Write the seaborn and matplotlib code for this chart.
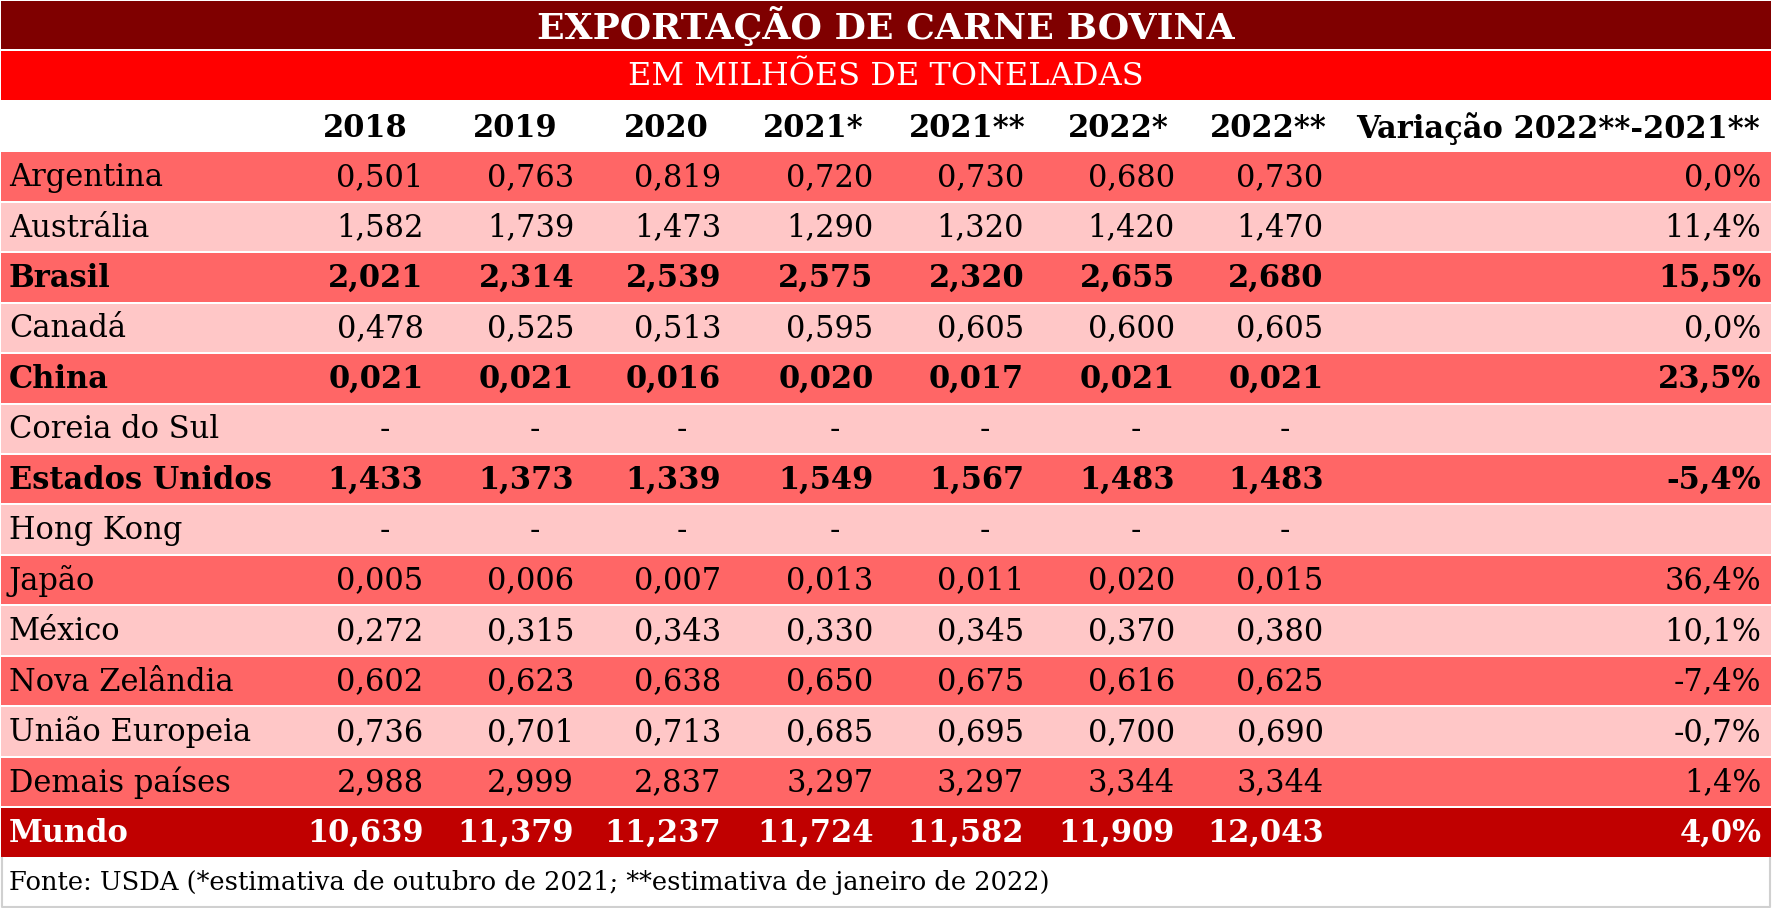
import numpy as np
import pandas as pd
import seaborn as sns
import matplotlib.pyplot as plt
from matplotlib.colors import ListedColormap

# Dados (milhões de toneladas)
paises = ['Argentina', 'Austrália', 'Brasil', 'Canadá', 'China', 'Coreia do Sul',
          'Estados Unidos', 'Hong Kong', 'Japão', 'México', 'Nova Zelândia',
          'União Europeia', 'Demais países', 'Mundo']
colunas = ['2018', '2019', '2020', '2021*', '2021**', '2022*', '2022**']
v2018 = [0.501, 1.582, 2.021, 0.478, 0.021, None, 1.433, None, 0.005, 0.272, 0.602, 0.736, 2.988, 10.639]
v2019 = [0.763, 1.739, 2.314, 0.525, 0.021, None, 1.373, None, 0.006, 0.315, 0.623, 0.701, 2.999, 11.379]
v2020 = [0.819, 1.473, 2.539, 0.513, 0.016, None, 1.339, None, 0.007, 0.343, 0.638, 0.713, 2.837, 11.237]
v2021a = [0.720, 1.290, 2.575, 0.595, 0.020, None, 1.549, None, 0.013, 0.330, 0.650, 0.685, 3.297, 11.724]
v2021b = [0.730, 1.320, 2.320, 0.605, 0.017, None, 1.567, None, 0.011, 0.345, 0.675, 0.695, 3.297, 11.582]
v2022a = [0.680, 1.420, 2.655, 0.600, 0.021, None, 1.483, None, 0.020, 0.370, 0.616, 0.700, 3.344, 11.909]
v2022b = [0.730, 1.470, 2.680, 0.605, 0.021, None, 1.483, None, 0.015, 0.380, 0.625, 0.690, 3.344, 12.043]
variacao = [0.0, 11.4, 15.5, 0.0, 23.5, None, -5.4, None, 36.4, 10.1, -7.4, -0.7, 1.4, 4.0]
negrito = ['Brasil', 'China', 'Estados Unidos', 'Mundo']

titulo = 'EXPORTAÇÃO DE CARNE BOVINA'
subtitulo = 'EM MILHÕES DE TONELADAS'
cab_var = 'Variação 2022**-2021**'
fonte = 'Fonte: USDA (*estimativa de outubro de 2021; **estimativa de janeiro de 2022)'

df = pd.DataFrame(dict(zip(colunas, [v2018, v2019, v2020, v2021a, v2021b, v2022a, v2022b])), index=paises)

# tipo de faixa por linha: 0 titulo, 1 subtitulo, 2 branco, 3 escuro, 4 claro, 5 mundo
tipos = [0, 1, 2] + [3 if i % 2 == 0 else 4 for i in range(len(paises) - 1)] + [5, 2]
cores = ['#7F0000', '#FF0000', '#FFFFFF', '#FF6666', '#FFC7C7', '#C00000']
faixas = pd.DataFrame({'faixa': tipos})

fig = plt.figure(figsize=(17.72, 9.08), dpi=100)
ax = fig.add_axes([0, 0, 1, 1])
sns.heatmap(faixas, cmap=ListedColormap(cores), vmin=-0.5, vmax=5.5, cbar=False,
            linewidths=1.2, linecolor='white', ax=ax, xticklabels=False, yticklabels=False)
ax.set_xlim(0, 1)
# borda cinza clara do rodapé
ax.plot([0.001, 0.001, 0.999, 0.999], [len(tipos) - 1, len(tipos) - 0.02, len(tipos) - 0.02, len(tipos) - 1],
        color='#D0D0D0', lw=1.5)

fam = ['DejaVu Serif']
fs = 22
tr = ax.get_yaxis_transform()


def fmt(v, dec=3):
    return f'{v:.{dec}f}'.replace('.', ',')


ax.text(0.5, 0.52, titulo, transform=tr, ha='center', va='center', color='white',
        fontsize=26, fontweight='bold', family=fam)
ax.text(0.5, 1.52, subtitulo, transform=tr, ha='center', va='center', color='white',
        fontsize=23, family=fam)

x_fim = [0.239, 0.324, 0.407, 0.493, 0.578, 0.663, 0.747]
x_cab = [0.206, 0.291, 0.376, 0.459, 0.546, 0.631, 0.716]
for xc, col in zip(x_cab, colunas):
    ax.text(xc, 2.55, col, transform=tr, ha='center', va='center', fontsize=fs,
            fontweight='bold', family=fam)
ax.text(0.879, 2.55, cab_var, transform=tr, ha='center', va='center', fontsize=fs,
        fontweight='bold', family=fam)

for i, pais in enumerate(paises):
    y = i + 3.52
    peso = 'bold' if pais in negrito else 'normal'
    cor = 'white' if pais == 'Mundo' else 'black'
    ax.text(0.005, y, pais, transform=tr, ha='left', va='center', fontsize=fs,
            fontweight=peso, color=cor, family=fam)
    for xf, col in zip(x_fim, colunas):
        v = df.loc[pais, col]
        if pd.isna(v):
            ax.text(xf - 0.022, y, '-', transform=tr, ha='center', va='center',
                    fontsize=fs, color=cor, family=fam)
        else:
            ax.text(xf, y, fmt(v), transform=tr, ha='right', va='center', fontsize=fs,
                    fontweight=peso, color=cor, family=fam)
    if variacao[i] is not None:
        ax.text(0.994, y, fmt(variacao[i], 1) + '%', transform=tr, ha='right', va='center',
                fontsize=fs, fontweight=peso, color=cor, family=fam)

ax.text(0.005, len(tipos) - 0.5, fonte, transform=tr, ha='left', va='center',
        fontsize=18.5, family=fam)

fig.savefig('out.png', dpi=100)
